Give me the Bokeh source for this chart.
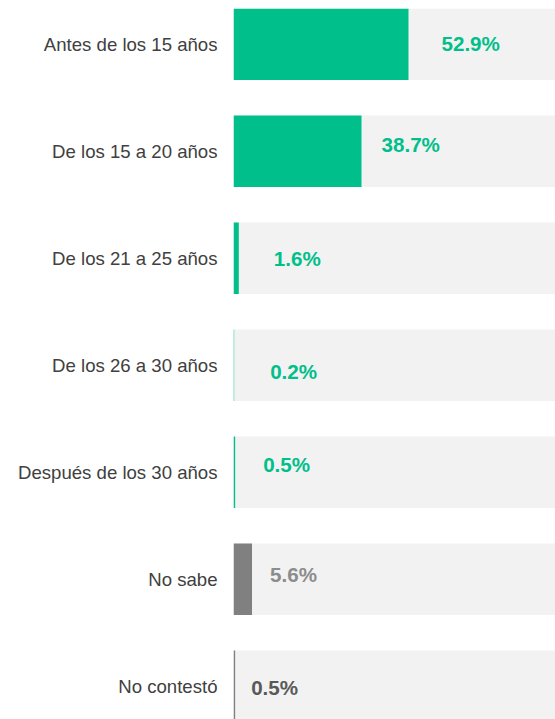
from bokeh.plotting import figure
from bokeh.models import Range1d, FixedTicker, ColumnDataSource
from bokeh.embed import file_html
from bokeh.resources import INLINE
from bokeh.core.properties import value

# ---- data ----
categories = ["Antes de los 15 años", "De los 15 a 20 años", "De los 21 a 25 años",
              "De los 26 a 30 años", "Después de los 30 años", "No sabe", "No contestó"]
values = [52.9, 38.7, 1.6, 0.2, 0.5, 5.6, 0.5]
value_labels = ["52.9%", "38.7%", "1.6%", "0.2%", "0.5%", "5.6%", "0.5%"]

# ---- styling ----
GREEN = "#00BF8A"
bar_colors = [GREEN, GREEN, GREEN, GREEN, GREEN, "#808080", "#808080"]
text_colors = [GREEN, GREEN, GREEN, GREEN, GREEN, "#8C8C8C", "#595959"]
label_dx = [33, 20, 35, 36, 28, 18, 16]      # pixel offsets of the value labels
label_dy = [-1, -7, 0, 6, -8, -5, 1]

idx = list(range(len(categories)))
src = ColumnDataSource(dict(
    y=idx, v=values, bg=[100] * len(idx), lab=value_labels,
    bc=bar_colors, tc=text_colors, dx=label_dx, dy=label_dy,
))

p = figure(frame_width=322, frame_height=711,
           x_range=Range1d(0, 97.34), y_range=Range1d(6.311, -0.334),
           output_backend="svg", toolbar_location=None, x_axis_location=None,
           min_border_left=233, min_border_right=0, min_border_top=8, min_border_bottom=0)
p.outline_line_color = None
p.grid.visible = False
p.background_fill_color = "white"
p.border_fill_color = "white"

p.hbar(y="y", left=0, right="bg", height=0.67, source=src,
       fill_color="#F2F2F2", line_color=None)
p.hbar(y="y", left=0, right="v", height=0.67, source=src,
       fill_color="bc", line_color=None)
p.text(x="v", y="y", text="lab", source=src, x_offset="dx", y_offset="dy",
       text_color="tc", text_font=value("Liberation Sans"), text_font_style="bold",
       text_font_size="20.6px", text_align="left", text_baseline="middle")

ax = p.yaxis[0]
ax.ticker = FixedTicker(ticks=idx)
ax.major_label_overrides = {i: c for i, c in zip(idx, categories)}
ax.axis_line_color = None
ax.major_tick_line_color = None
ax.minor_tick_line_color = None
ax.major_tick_out = 0
ax.major_tick_in = 0
ax.major_label_standoff = 16
ax.major_label_text_font = "Liberation Sans"
ax.major_label_text_font_size = "18.6px"
ax.major_label_text_color = "#404040"

open("out.html", "w").write(file_html(p, INLINE))
